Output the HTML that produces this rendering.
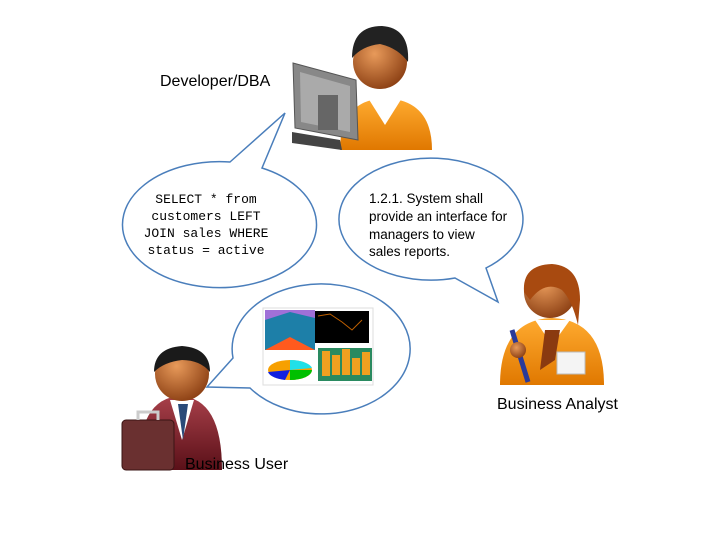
<!DOCTYPE html>
<html><head><style>body{margin:0;background:#fff}svg{display:block}</style></head><body>
<svg width="720" height="540" viewBox="0 0 720 540" xmlns="http://www.w3.org/2000/svg">
<defs>
<radialGradient id="skin" cx="40%" cy="35%" r="70%"><stop offset="0" stop-color="#e89a5a"/><stop offset="1" stop-color="#8a3e12"/></radialGradient>
<linearGradient id="org" x1="0" y1="0" x2="0" y2="1"><stop offset="0" stop-color="#ffab30"/><stop offset="1" stop-color="#e07800"/></linearGradient>
<linearGradient id="mar" x1="0" y1="0" x2="0" y2="1"><stop offset="0" stop-color="#a8404a"/><stop offset="1" stop-color="#5a1018"/></linearGradient>
</defs>
<g fill="#fff" stroke="#4a7ebb" stroke-width="1.5">
<path d="M230,162 L285,113 L262,168 A97,63 0 1 1 230,162 Z"/>
<path d="M455,278 L498,302 L486,268 A92,61 0 1 0 455,278 Z"/>
<path d="M233,358 L207,387 L250,388 A89,65 0 1 0 233,358 Z"/>
</g>
<!-- Developer -->
<path d="M340,150 Q340,100 385,98 Q432,100 432,150 Z" fill="url(#org)"/>
<path d="M368,98 L385,125 L402,98 Z" fill="#fff"/>
<circle cx="380" cy="62" r="27" fill="url(#skin)"/>
<path d="M352,58 Q352,26 382,26 Q410,28 408,62 Q398,48 380,44 Q362,46 352,58Z" fill="#222"/>
<path d="M293,63 L356,80 L358,140 L295,128 Z" fill="#888" stroke="#555"/>
<path d="M300,72 L350,86 L350,132 L301,122Z" fill="#aaa"/>
<rect x="318" y="95" width="20" height="35" fill="#666"/>
<path d="M292,132 L340,140 L342,150 L292,143Z" fill="#444"/>
<!-- Analyst -->
<path d="M500,385 Q500,320 552,318 Q604,320 604,385 Z" fill="url(#org)"/>
<path d="M535,320 L552,345 L570,320Z" fill="#fff"/>
<path d="M545,330 L540,370 L555,360 L560,330Z" fill="#8a3a10"/>
<rect x="557" y="352" width="28" height="22" fill="#f4f4f4" stroke="#bbb"/>
<circle cx="550" cy="292" r="26" fill="url(#skin)"/>
<path d="M524,292 Q522,265 552,264 Q580,266 580,300 L578,325 Q572,300 562,290 Q545,280 530,300 Z" fill="#a84a10"/>
<path d="M512,330 L528,382" stroke="#2a3a9a" stroke-width="5"/>
<circle cx="518" cy="350" r="8" fill="url(#skin)"/>
<!-- User -->
<path d="M138,470 Q138,398 180,396 Q222,398 222,470 Z" fill="url(#mar)"/>
<path d="M170,400 L182,440 L194,400Z" fill="#fff"/>
<path d="M178,404 L183,440 L188,404Z" fill="#2a4a78"/>
<circle cx="182" cy="374" r="27" fill="url(#skin)"/>
<path d="M154,372 Q154,348 182,346 Q210,348 210,372 Q200,360 182,360 Q164,362 154,372Z" fill="#1a1a1a"/>
<rect x="122" y="420" width="52" height="50" rx="4" fill="#6a3030" stroke="#3a1414"/>
<path d="M138,420 L138,412 L158,412 L158,420" fill="none" stroke="#ccc" stroke-width="3"/>
<!-- Charts -->
<g>
<rect x="263" y="308" width="110" height="77" fill="#fff" stroke="#ddd"/>
<rect x="265" y="310" width="50" height="40" fill="#1d7fa8"/>
<path d="M265,310 L315,310 L315,318 L290,312 L265,320Z" fill="#a070d8"/>
<path d="M265,350 L290,337 L315,350Z" fill="#ff5a1e"/>
<rect x="315" y="311" width="54" height="32" fill="#000"/>
<polyline points="318,316 330,314 342,322 352,330 362,320" fill="none" stroke="#c06000"/>
<rect x="318" y="348" width="54" height="33" fill="#2a8a60"/>
<g fill="#f0a020"><rect x="322" y="351" width="8" height="25"/><rect x="332" y="355" width="8" height="20"/><rect x="342" y="349" width="8" height="26"/><rect x="352" y="358" width="8" height="17"/><rect x="362" y="352" width="8" height="23"/></g>
<ellipse cx="290" cy="370" rx="22" ry="10" fill="#f7a000"/>
<path d="M290,370 L312,370 A22,10 0 0 1 290,380Z" fill="#00c000"/>
<path d="M290,370 L290,360 A22,10 0 0 1 312,368Z" fill="#20e0e8"/>
<path d="M290,370 L268,372 A22,10 0 0 0 285,380Z" fill="#1020e0"/>
</g>
<g font-family="Liberation Sans, sans-serif" fill="#000">
<text x="160" y="86" font-size="16">Developer/DBA</text>
<text x="497" y="409" font-size="16">Business Analyst</text>
<text x="185" y="469" font-size="16">Business User</text>
<g font-size="13.5"><text x="369" y="203">1.2.1. System shall</text><text x="369" y="221">provide an interface for</text><text x="369" y="239">managers to view</text><text x="369" y="256">sales reports.</text></g>
</g>
<g font-family="Liberation Mono, monospace" font-size="13" text-anchor="middle">
<text x="206" y="203">SELECT * from</text><text x="206" y="220">customers LEFT</text><text x="206" y="237">JOIN sales WHERE</text><text x="206" y="254">status = active</text>
</g>
</svg>
</body></html>
